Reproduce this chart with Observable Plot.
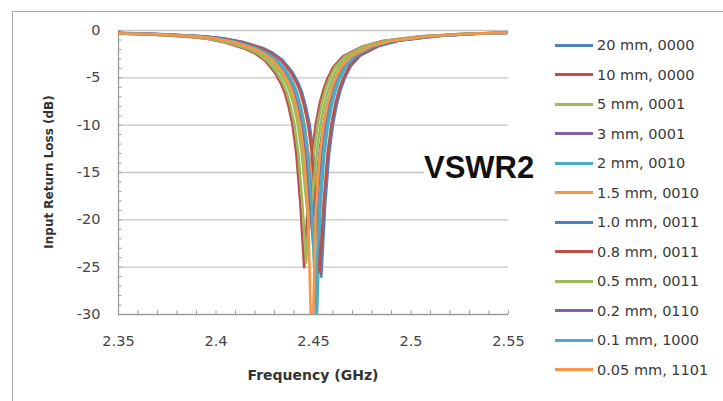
<!DOCTYPE html>
<html><head><meta charset="utf-8">
<script src="https://cdn.jsdelivr.net/npm/d3@7"></script>
<script src="https://cdn.jsdelivr.net/npm/@observablehq/plot@0.6"></script>
<style>
html,body{margin:0;padding:0;background:#fff;overflow:hidden;}
#wrap{position:relative;width:723px;height:401px;overflow:hidden;font-family:"DejaVu Sans",sans-serif;}
#frame{position:absolute;left:12px;top:11px;width:760px;height:450px;border:1.5px solid #a8a8a8;box-sizing:border-box;}
#chart{position:absolute;left:0;top:0;}
#ylab{position:absolute;left:49px;top:172px;transform:translate(-50%,-50%) rotate(-90deg);white-space:nowrap;font:bold 12px "DejaVu Sans",sans-serif;color:#333;}
#xlab{position:absolute;left:313px;top:375px;transform:translate(-50%,-50%);white-space:nowrap;font:bold 14px "DejaVu Sans",sans-serif;color:#333;}
#note{position:absolute;left:424px;top:152px;font:bold 31px "Liberation Sans",Arial,sans-serif;line-height:1;color:#111;background:#fff;white-space:nowrap;}
.row{position:absolute;left:555px;height:20px;display:flex;align-items:center;white-space:nowrap;}
.sw{width:38px;height:3px;margin-right:4px;}
.tx{font:14.5px "DejaVu Sans",sans-serif;color:#3a3a3a;}
</style></head>
<body><div id="wrap"><div id="frame"></div><div id="chart"></div>
<div id="ylab">Input Return Loss (dB)</div><div id="xlab">Frequency (GHz)</div><div id="note">VSWR2</div></div>
<script>
// Series labels and colours
const labels = ["20 mm, 0000","10 mm, 0000","5 mm, 0001","3 mm, 0001","2 mm, 0010","1.5 mm, 0010","1.0 mm, 0011","0.8 mm, 0011","0.5 mm, 0011","0.2 mm, 0110","0.1 mm, 1000","0.05 mm, 1101"];
const colors = ["#4F81BD","#C0504D","#9BBB59","#8064A2","#4BACC6","#F79646","#4F81BD","#C0504D","#9BBB59","#8064A2","#4BACC6","#F79646"];
// Resonance (GHz) of each series
const centers = [2.4540, 2.4452, 2.4462, 2.4495, 2.4515, 2.4505, 2.4505, 2.4532, 2.4478, 2.4500, 2.4510, 2.4492];
// Frequency offsets (GHz) from each resonance at which values were read
const offsets = [-0.105,-0.08,-0.06,-0.05,-0.04,-0.03,-0.025,-0.02,-0.015,-0.012,-0.01,-0.008,-0.006,-0.004,-0.002,0,0.002,0.004,0.006,0.008,0.01,0.012,0.015,0.02,0.03,0.04,0.06,0.08,0.105];
// Return loss (dB)
const s20mm  = [-0.25,-0.39,-0.60,-0.83,-1.22,-1.85,-2.35,-3.10,-4.35,-5.45,-6.45,-7.95,-9.90,-13.00,-18.30,-26.0,-18.35,-13.05,-9.90,-7.75,-6.20,-5.05,-3.80,-2.65,-1.60,-1.07,-0.58,-0.35,-0.19];
const s10mm  = [-0.28,-0.42,-0.65,-0.88,-1.30,-1.95,-2.45,-3.20,-4.45,-5.55,-6.55,-8.00,-9.90,-13.00,-18.15,-25.0,-18.10,-12.95,-9.85,-7.70,-6.20,-5.05,-3.85,-2.72,-1.68,-1.12,-0.62,-0.37,-0.21];
const s5mm   = [-0.27,-0.41,-0.64,-0.87,-1.28,-1.93,-2.43,-3.18,-4.43,-5.52,-6.52,-7.95,-9.85,-12.95,-18.00,-24.5,-18.00,-12.90,-9.80,-7.70,-6.15,-5.05,-3.82,-2.70,-1.66,-1.10,-0.61,-0.36,-0.20];
const s3mm   = [-0.26,-0.40,-0.62,-0.85,-1.25,-1.90,-2.40,-3.12,-4.35,-5.40,-6.35,-7.60,-9.50,-12.25,-16.00,-18.9,-16.00,-12.20,-9.45,-7.50,-6.05,-5.00,-3.80,-2.68,-1.64,-1.09,-0.60,-0.36,-0.20];
const s2mm   = [-0.26,-0.40,-0.62,-0.85,-1.25,-1.90,-2.40,-3.15,-4.40,-5.50,-6.50,-8.00,-10.00,-13.25,-18.95,-32.0,-18.90,-13.20,-9.95,-7.80,-6.25,-5.10,-3.85,-2.70,-1.65,-1.10,-0.60,-0.36,-0.20];
const s15mm  = [-0.26,-0.40,-0.61,-0.84,-1.24,-1.88,-2.37,-3.10,-4.30,-5.30,-6.25,-7.45,-9.25,-11.70,-14.80,-16.8,-14.80,-11.65,-9.20,-7.35,-5.95,-4.90,-3.75,-2.65,-1.63,-1.08,-0.60,-0.35,-0.20];
const s10 = [-0.26,-0.40,-0.62,-0.85,-1.25,-1.90,-2.40,-3.13,-4.37,-5.42,-6.40,-7.65,-9.60,-12.40,-16.30,-19.5,-16.30,-12.35,-9.55,-7.55,-6.10,-5.02,-3.80,-2.68,-1.64,-1.09,-0.60,-0.36,-0.20];
const s08 = [-0.25,-0.39,-0.61,-0.84,-1.23,-1.87,-2.37,-3.12,-4.37,-5.47,-6.47,-7.97,-9.90,-13.00,-18.25,-25.5,-18.25,-13.00,-9.88,-7.75,-6.20,-5.07,-3.82,-2.68,-1.63,-1.08,-0.59,-0.35,-0.19];
const s05 = [-0.27,-0.41,-0.63,-0.86,-1.27,-1.92,-2.42,-3.17,-4.40,-5.47,-6.45,-7.75,-9.70,-12.60,-17.00,-21.0,-17.00,-12.60,-9.65,-7.62,-6.15,-5.05,-3.83,-2.70,-1.66,-1.10,-0.61,-0.36,-0.20];
const s02 = [-0.26,-0.40,-0.62,-0.85,-1.25,-1.90,-2.40,-3.15,-4.40,-5.48,-6.48,-7.80,-9.80,-12.85,-17.70,-23.0,-17.65,-12.80,-9.78,-7.68,-6.20,-5.08,-3.84,-2.70,-1.65,-1.10,-0.60,-0.36,-0.20];
const s01 = [-0.26,-0.40,-0.62,-0.85,-1.25,-1.90,-2.40,-3.15,-4.40,-5.50,-6.50,-7.98,-9.95,-13.15,-18.60,-28.0,-18.60,-13.10,-9.93,-7.78,-6.23,-5.10,-3.85,-2.70,-1.65,-1.10,-0.60,-0.36,-0.20];
const s005 = [-0.26,-0.40,-0.62,-0.85,-1.25,-1.90,-2.40,-3.15,-4.40,-5.50,-6.50,-8.00,-10.00,-13.27,-19.05,-35.0,-19.00,-13.25,-10.00,-7.82,-6.27,-5.12,-3.87,-2.72,-1.66,-1.10,-0.61,-0.36,-0.20];
const seriesValues = [s20mm, s10mm, s5mm, s3mm, s2mm, s15mm, s10, s08, s05, s02, s01, s005];
// Axis ticks
const xTicks = [2.35, 2.40, 2.45, 2.50, 2.55];
const xTickLabels = ["2.35","2.4","2.45","2.5","2.55"];
const xMinor = [2.36,2.37,2.38,2.39,2.40,2.41,2.42,2.43,2.44,2.45,2.46,2.47,2.48,2.49,2.50,2.51,2.52,2.53,2.54,2.55];
const yTicks = [0,-5,-10,-15,-20,-25,-30];
const yTickLabels = ["0","-5","-10","-15","-20","-25","-30"];
const yGrid = [0,-5,-10,-15,-20,-25];
const yMinor = [-1,-2,-3,-4,-6,-7,-8,-9,-11,-12,-13,-14,-16,-17,-18,-19,-21,-22,-23,-24,-26,-27,-28,-29,-5,-10,-15,-20,-25,0];

const rows = [];
labels.forEach((name, i) => {
  offsets.forEach((o, j) => rows.push({series: name, f: centers[i] + o, db: seriesValues[i][j]}));
});

const axisColor = "#9c9c9c";
const chart = Plot.plot({
  width: 723, height: 401,
  marginLeft: 118, marginRight: 215, marginTop: 30, marginBottom: 87,
  x: {domain: [2.35, 2.55], label: null},
  y: {domain: [-30, 0], label: null},
  color: {domain: labels, range: colors},
  style: {fontFamily: "DejaVu Sans, sans-serif", fontSize: "14.5px", color: "#454545", background: "transparent"},
  marks: [
    Plot.gridY(yGrid, {stroke: "#c6c6c6", strokeOpacity: 1, strokeWidth: 1.3}),
    Plot.ruleY(yMinor, {x1: 2.35, x2: 2.3518, stroke: axisColor}),
    Plot.ruleX(xMinor, {y1: -30, y2: -29.6, stroke: axisColor}),
    Plot.ruleX([2.35], {stroke: axisColor, strokeWidth: 1.3}),
    Plot.ruleY([-30], {stroke: axisColor, strokeWidth: 1.3}),
    Plot.axisY(yTicks, {tickSize: 0, tickPadding: 18, label: null, tickFormat: d => yTickLabels[yTicks.indexOf(d)]}),
    Plot.axisX(xTicks, {tickSize: 0, tickPadding: 21, label: null, tickFormat: d => xTickLabels[xTicks.indexOf(d)]}),
    Plot.line(rows, {x: "f", y: "db", z: "series", stroke: "series", strokeWidth: 2.6, clip: true})
  ]
});
document.getElementById("chart").appendChild(chart);

const wrap = document.getElementById("wrap");
labels.forEach((name, i) => {
  const row = document.createElement("div");
  row.className = "row";
  row.style.top = (45 + 29.5 * i - 10) + "px";
  const sw = document.createElement("div");
  sw.className = "sw";
  sw.style.background = colors[i];
  const tx = document.createElement("span");
  tx.className = "tx";
  tx.textContent = name;
  row.appendChild(sw); row.appendChild(tx);
  wrap.appendChild(row);
});
// keep note above the chart
wrap.appendChild(document.getElementById("note"));
</script>
</body></html>
